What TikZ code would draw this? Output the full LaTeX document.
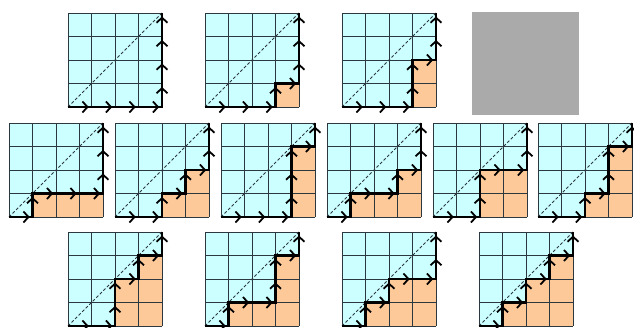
\documentclass[tikz,border=0pt]{standalone}
\usetikzlibrary{arrows.meta}
\definecolor{cyanfill}{HTML}{CCFFFF}
\definecolor{orangefill}{HTML}{FDC998}
\definecolor{gridcol}{HTML}{2C3840}
\definecolor{graybox}{HTML}{AAAAAA}
\tikzset{
  gridline/.style={draw=gridcol, line width=0.9pt},
  diag/.style={draw=gridcol, line width=0.9pt, dash pattern=on 3pt off 2pt},
  pathline/.style={draw=black, line width=2.3pt},
  steparrow/.style={draw=black, line width=2.3pt, -{Straight Barb[length=5pt,width=11pt,line width=1.8pt]}},
}
\newcommand\dyck[6]{%
\begin{scope}[shift={(#1pt,#2pt)}, x=23.5pt, y=23.5pt]
  \fill[cyanfill] (0,0) rectangle (4,4);
  \foreach \c/\h in {0/#3,1/#4,2/#5,3/#6} {\ifnum\h>0 \fill[orangefill] (\c,0) rectangle (\c+1,\h);\fi}
  \foreach \i in {0,...,4} {\draw[gridline] (\i,0) -- (\i,4); \draw[gridline] (0,\i) -- (4,\i);}
  \draw[diag] (0,0) -- (4,4);
  \draw[pathline] (0,0) -- (1,0) -- (1,#4) -- (2,#4) -- (2,#5) -- (3,#5) -- (3,#6) -- (4,#6) -- (4,4);
  \foreach \c/\h in {0/#3,1/#4,2/#5,3/#6} {\draw[steparrow] (\c,\h) -- (\c+0.88,\h);}
  \foreach \c/\a/\b in {1/#3/#4,2/#4/#5,3/#5/#6,4/#6/4} {%
    \ifnum\a<\b
      \pgfmathtruncatemacro\bm{\b-1}%
      \foreach \k in {\a,...,\bm} {\draw[steparrow] (\c,\k) -- (\c,\k+0.85);}%
    \fi}
\end{scope}}
\begin{document}
\begin{tikzpicture}
\useasboundingbox (0,0) rectangle (634pt,327pt);
% row 1
\dyck{68}{220}{0}{0}{0}{0}
\dyck{205}{220}{0}{0}{0}{1}
\dyck{342}{220}{0}{0}{0}{2}
\fill[graybox] (472pt,212pt) rectangle (579pt,315pt);
% row 2
\dyck{9}{110}{0}{1}{1}{1}
\dyck{115}{110}{0}{0}{1}{2}
\dyck{221}{110}{0}{0}{0}{3}
\dyck{327}{110}{0}{1}{1}{2}
\dyck{433}{110}{0}{0}{2}{2}
\dyck{538}{110}{0}{0}{1}{3}
% row 3
\dyck{68}{1}{0}{0}{2}{3}
\dyck{205}{1}{0}{1}{1}{3}
\dyck{342}{1}{0}{1}{2}{2}
\dyck{479}{1}{0}{1}{2}{3}
\end{tikzpicture}
\end{document}
